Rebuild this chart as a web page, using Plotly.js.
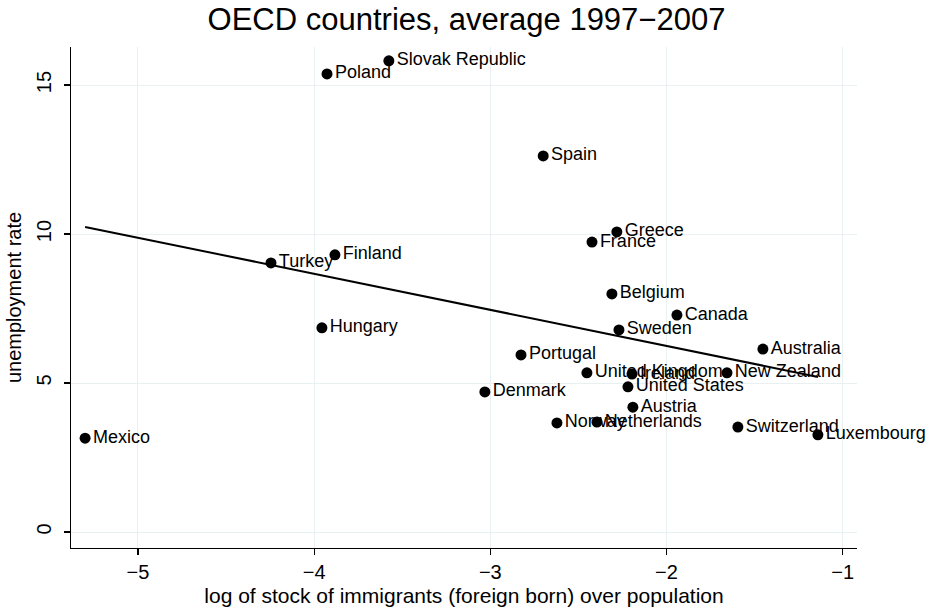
<!DOCTYPE html>
<html>
<head>
<meta charset="utf-8">
<script src="https://cdn.plot.ly/plotly-3.0.1.min.js"></script>
<style>html,body{margin:0;padding:0;background:#fff;}#chart{width:933px;height:609px;}</style>
</head>
<body>
<div id="chart"></div>
<script>
const countries = ["Mexico","Poland","Slovak Republic","Turkey","Finland","Hungary","Spain","Greece","France","Belgium","Canada","Sweden","Australia","Portugal","United Kingdom","Ireland","New Zealand","United States","Denmark","Austria","Norway","Netherlands","Switzerland","Luxembourg"];
const logImmigrantStock = [-5.30,-3.927,-3.576,-4.245,-3.882,-3.956,-2.70,-2.282,-2.423,-2.31,-1.941,-2.27,-1.453,-2.826,-2.452,-2.196,-1.657,-2.219,-3.031,-2.191,-2.622,-2.395,-1.595,-1.141];
const unemploymentRate = [3.15,15.37,15.81,9.03,9.30,6.85,12.62,10.07,9.73,7.99,7.28,6.78,6.14,5.94,5.34,5.30,5.34,4.87,4.70,4.19,3.66,3.69,3.52,3.26];
const xTicks = [-5,-4,-3,-2,-1];
const yTicks = [0,5,10,15];

// linear fit (OLS) as in Stata lfit
const n = logImmigrantStock.length;
const mx = logImmigrantStock.reduce((a,b)=>a+b,0)/n;
const my = unemploymentRate.reduce((a,b)=>a+b,0)/n;
let sxy=0, sxx=0;
for (let i=0;i<n;i++){ sxy += (logImmigrantStock[i]-mx)*(unemploymentRate[i]-my); sxx += (logImmigrantStock[i]-mx)**2; }
const slope = sxy/sxx, intercept = my - slope*mx;
const xmin = Math.min(...logImmigrantStock), xmax = Math.max(...logImmigrantStock);
const fitX = [xmin, xmax];
const fitY = fitX.map(v => intercept + slope*v);

const font = "Liberation Sans, Arial, Helvetica, sans-serif";
const data = [
  {x: logImmigrantStock, y: unemploymentRate, text: countries, mode: "markers+text", type: "scatter",
   textposition: "middle right", textfont: {family: font, size: 18, color: "#000"},
   marker: {color: "#000", size: 11}, hoverinfo: "text", cliponaxis: false},
  {x: fitX, y: fitY, mode: "lines", type: "scatter", line: {color: "#000", width: 2}, hoverinfo: "skip"}
];
const layout = {
  width: 933, height: 609,
  margin: {l: 71, r: 76, t: 47, b: 61},
  paper_bgcolor: "#fff", plot_bgcolor: "#fff",
  showlegend: false,
  font: {family: font, color: "#000"},
  title: {text: "OECD countries, average 1997\u22122007", font: {family: font, size: 31, color: "#000"}, x: 0.5, xanchor: "center", y: 0.968, yanchor: "middle"},
  xaxis: {range: [-5.38, -0.919], tickvals: xTicks, ticks: "outside", ticklen: 6, tickcolor: "#000", tickwidth: 1.2,
          showline: true, linecolor: "#000", linewidth: 1.3, mirror: false, zeroline: false,
          showgrid: true, gridcolor: "#e8f0f2", gridwidth: 1,
          tickfont: {family: font, size: 20, color: "#000"},
          title: {text: "log of stock of immigrants (foreign born) over population", font: {family: font, size: 21, color: "#000"}, standoff: 6}},
  yaxis: {range: [-0.537, 16.275], tickvals: yTicks, ticks: "outside", ticklen: 6, tickcolor: "#000", tickwidth: 1.2,
          showline: true, linecolor: "#000", linewidth: 1.3, mirror: false, zeroline: false,
          showgrid: true, gridcolor: "#e8f0f2", gridwidth: 1, tickangle: -90, ticklabelstandoff: 5,
          tickfont: {family: font, size: 20, color: "#000"},
          title: {text: "unemployment rate", font: {family: font, size: 20, color: "#000"}, standoff: 5}}
};
Plotly.newPlot("chart", data, layout, {displayModeBar: false, staticPlot: true});
</script>
</body>
</html>
